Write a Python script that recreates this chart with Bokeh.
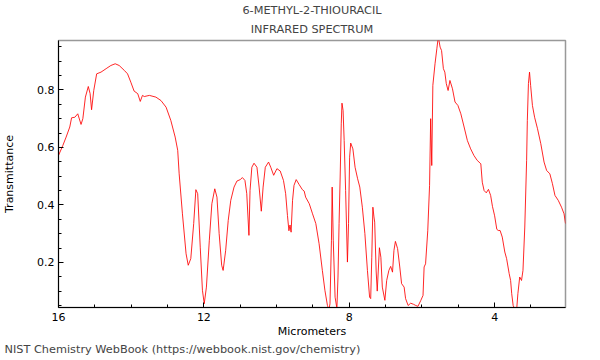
from bokeh.plotting import figure
from bokeh.models import Range1d, FixedTicker, Title
from bokeh.embed import file_html
from bokeh.resources import INLINE

# Wavelength (micrometers) and transmittance
micrometers = [
    16.00, 15.88, 15.79, 15.69, 15.64, 15.55, 15.47, 15.38, 15.33, 15.26,
    15.18, 15.13, 15.09, 15.03, 14.95, 14.83, 14.69, 14.56, 14.44, 14.33,
    14.19, 14.10, 14.01, 13.92, 13.82, 13.75, 13.69, 13.64, 13.50, 13.32,
    13.18, 13.04, 12.91, 12.79, 12.72, 12.68, 12.59, 12.49, 12.43, 12.36,
    12.28, 12.22, 12.17, 12.10, 12.04, 11.99, 11.93, 11.85, 11.78, 11.70,
    11.64, 11.58, 11.51, 11.47, 11.40, 11.33, 11.26, 11.17, 11.09, 11.00,
    10.94, 10.87, 10.82, 10.76, 10.73, 10.68, 10.62, 10.54, 10.48, 10.42,
    10.37, 10.31, 10.22, 10.16, 10.08, 9.99, 9.90, 9.81, 9.75, 9.70,
    9.66, 9.63, 9.60, 9.56, 9.52, 9.46, 9.38, 9.29, 9.24, 9.20,
    9.10, 9.01, 8.92, 8.83, 8.74, 8.67, 8.60, 8.56, 8.53, 8.49,
    8.47, 8.44, 8.39, 8.34, 8.31, 8.28, 8.25, 8.22, 8.20, 8.17,
    8.14, 8.10, 8.05, 8.02, 7.99, 7.96, 7.90, 7.84, 7.77, 7.71,
    7.64, 7.57, 7.50, 7.44, 7.41, 7.38, 7.35, 7.32, 7.30, 7.26,
    7.23, 7.17, 7.13, 7.09, 7.02, 6.97, 6.91, 6.86, 6.81, 6.77,
    6.73, 6.67, 6.61, 6.56, 6.49, 6.45, 6.38, 6.31, 6.23, 6.17,
    6.11, 6.03, 5.97, 5.94, 5.90, 5.84, 5.79, 5.76, 5.73, 5.70,
    5.64, 5.59, 5.55, 5.50, 5.46, 5.41, 5.37, 5.33, 5.28, 5.23,
    5.16, 5.09, 5.01, 4.93, 4.84, 4.75, 4.66, 4.57, 4.48, 4.38,
    4.34, 4.29, 4.23, 4.17, 4.11, 4.06, 4.00, 3.94, 3.90, 3.85,
    3.79, 3.72, 3.67, 3.60, 3.56, 3.53, 3.49, 3.44, 3.39, 3.36,
    3.31, 3.26, 3.22, 3.17, 3.12, 3.10, 3.07, 3.04, 3.01, 2.96,
    2.90, 2.82, 2.73, 2.64, 2.57, 2.48, 2.41, 2.34, 2.25, 2.16,
    2.09, 2.05,
]
transmittance = [
    0.572, 0.607, 0.636, 0.671, 0.703, 0.705, 0.717, 0.680, 0.700, 0.775,
    0.812, 0.787, 0.731, 0.798, 0.856, 0.862, 0.874, 0.885, 0.891, 0.885,
    0.868, 0.856, 0.827, 0.796, 0.787, 0.760, 0.781, 0.777, 0.781, 0.775,
    0.763, 0.740, 0.694, 0.636, 0.590, 0.508, 0.369, 0.230, 0.190, 0.213,
    0.335, 0.453, 0.439, 0.253, 0.103, 0.056, 0.114, 0.277, 0.404, 0.456,
    0.427, 0.300, 0.190, 0.172, 0.242, 0.346, 0.416, 0.462, 0.483, 0.488,
    0.495, 0.485, 0.439, 0.294, 0.450, 0.531, 0.545, 0.531, 0.462, 0.378,
    0.462, 0.531, 0.549, 0.531, 0.503, 0.526, 0.518, 0.485, 0.439, 0.363,
    0.310, 0.330, 0.305, 0.416, 0.468, 0.488, 0.471, 0.453, 0.448, 0.427,
    0.404, 0.369, 0.335, 0.265, 0.172, 0.103, 0.050, 0.035, 0.056, 0.277,
    0.462, 0.277, 0.079, 0.040, 0.149, 0.335, 0.497, 0.682, 0.754, 0.729,
    0.624, 0.450, 0.201, 0.335, 0.566, 0.615, 0.595, 0.531, 0.491, 0.462,
    0.392, 0.300, 0.172, 0.079, 0.074, 0.218, 0.392, 0.358, 0.340, 0.170,
    0.100, 0.251, 0.218, 0.114, 0.068, 0.137, 0.172, 0.186, 0.166, 0.242,
    0.273, 0.248, 0.184, 0.126, 0.114, 0.074, 0.050, 0.058, 0.054, 0.050,
    0.047, 0.068, 0.085, 0.184, 0.195, 0.310, 0.468, 0.700, 0.537, 0.816,
    0.891, 0.943, 0.985, 0.949, 0.937, 0.874, 0.862, 0.822, 0.798, 0.833,
    0.804, 0.758, 0.746, 0.717, 0.671, 0.624, 0.595, 0.572, 0.555, 0.543,
    0.479, 0.450, 0.442, 0.454, 0.433, 0.395, 0.362, 0.315, 0.311, 0.311,
    0.288, 0.236, 0.213, 0.161, 0.137, 0.091, 0.050, 0.035, 0.042, 0.091,
    0.149, 0.137, 0.172, 0.323, 0.555, 0.694, 0.822, 0.862, 0.816, 0.746,
    0.705, 0.665, 0.613, 0.549, 0.520, 0.508, 0.474, 0.433, 0.416, 0.392,
    0.369, 0.335,
]

x_major = [4, 8, 12, 16]
x_minor = [3, 5, 6, 7, 9, 10, 11, 13, 14, 15]
y_major = [0.2, 0.4, 0.6, 0.8]
y_minor = [0.05, 0.1, 0.15, 0.25, 0.3, 0.35, 0.45, 0.5, 0.55, 0.65, 0.7,
           0.75, 0.85, 0.9, 0.95]

FONT = "DejaVu Sans"

p = figure(width=600, height=360, output_backend="svg", toolbar_location=None,
           x_range=Range1d(16, 2.05), y_range=Range1d(0.043, 0.972),
           min_border_left=57, min_border_right=35, min_border_top=40,
           min_border_bottom=53, title=None)

p.line(micrometers, transmittance, line_color="#ff0000", line_width=1,
       line_alpha=0.85)

p.xgrid.visible = False
p.ygrid.visible = False
p.outline_line_color = "#999999"
p.outline_line_width = 1.5

for ax in (p.xaxis[0], p.yaxis[0]):
    ax.major_tick_in = 5
    ax.major_tick_out = 0
    ax.minor_tick_in = 3
    ax.minor_tick_out = 0
    ax.axis_line_color = "black"
    ax.major_tick_line_color = "black"
    ax.minor_tick_line_color = "black"
    ax.major_label_text_font = FONT
    ax.major_label_text_font_size = "11px"
    ax.major_label_text_color = "black"
    ax.axis_label_text_font = FONT
    ax.axis_label_text_font_size = "11px"
    ax.axis_label_text_font_style = "normal"
    ax.axis_label_text_color = "black"

p.xaxis[0].ticker = FixedTicker(ticks=x_major, minor_ticks=x_minor)
p.yaxis[0].ticker = FixedTicker(ticks=y_major, minor_ticks=y_minor)
p.xaxis[0].axis_label = "Micrometers"
p.yaxis[0].axis_label = "Transmittance"
p.xaxis[0].major_label_standoff = 5
p.xaxis[0].axis_label_standoff = 1
p.yaxis[0].major_label_standoff = 4
p.yaxis[0].axis_label_standoff = 18

p.add_layout(Title(text="INFRARED SPECTRUM", align="center", text_font=FONT,
                   text_font_size="11.3px", text_font_style="normal",
                   standoff=9), "above")
p.add_layout(Title(text="6-METHYL-2-THIOURACIL", align="center", text_font=FONT,
                   text_font_size="11.3px", text_font_style="normal",
                   standoff=0), "above")
p.add_layout(Title(text="NIST Chemistry WebBook (https://webbook.nist.gov/chemistry)",
                   align="left", offset=-54, text_font=FONT,
                   text_font_size="11.3px", text_font_style="normal",
                   standoff=0), "below")

open("out.html", "w").write(file_html(p, INLINE))
